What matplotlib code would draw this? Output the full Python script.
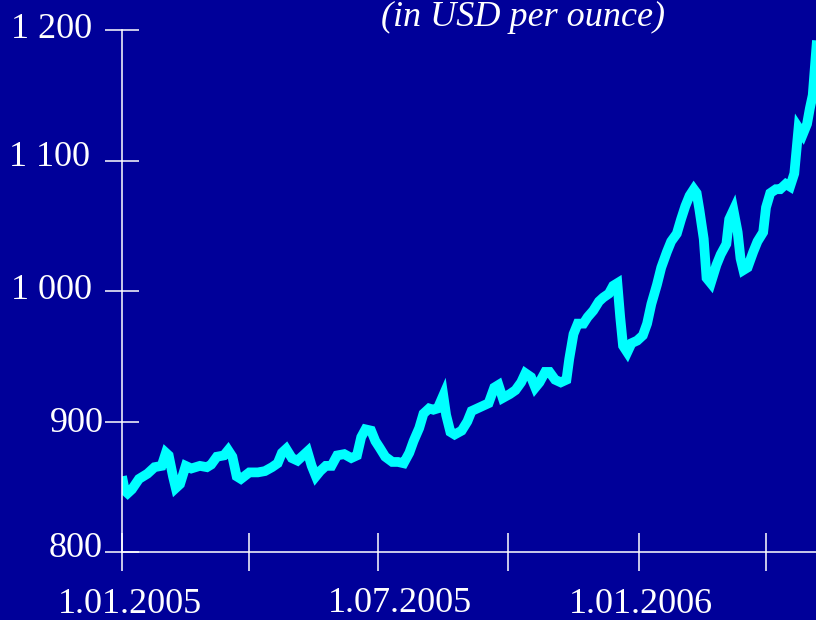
import matplotlib
matplotlib.use("Agg")
import matplotlib.pyplot as plt
import matplotlib.dates as mdates
import pandas as pd

# ---------------- data ----------------
dates = [
    "2005-01-01", "2005-01-03", "2005-01-05", "2005-01-08", "2005-01-13", "2005-01-19",
    "2005-01-24", "2005-01-29", "2005-02-01", "2005-02-03", "2005-02-06", "2005-02-08",
    "2005-02-11", "2005-02-15", "2005-02-19", "2005-02-25", "2005-03-02", "2005-03-05",
    "2005-03-09", "2005-03-14", "2005-03-17", "2005-03-20", "2005-03-23", "2005-03-26",
    "2005-04-01", "2005-04-07", "2005-04-12", "2005-04-17", "2005-04-21", "2005-04-24",
    "2005-04-27", "2005-05-01", "2005-05-05", "2005-05-09", "2005-05-12", "2005-05-15",
    "2005-05-18", "2005-05-21", "2005-05-25", "2005-05-29", "2005-06-02", "2005-06-07",
    "2005-06-12", "2005-06-16", "2005-06-19", "2005-06-22", "2005-06-26", "2005-06-29",
    "2005-07-02", "2005-07-06", "2005-07-11", "2005-07-15", "2005-07-19", "2005-07-23",
    "2005-07-26", "2005-07-30", "2005-08-02", "2005-08-06", "2005-08-09", "2005-08-12",
    "2005-08-16", "2005-08-18", "2005-08-21", "2005-08-24", "2005-08-29", "2005-09-02",
    "2005-09-05", "2005-09-09", "2005-09-13", "2005-09-17", "2005-09-21", "2005-09-24",
    "2005-09-27", "2005-10-02", "2005-10-06", "2005-10-10", "2005-10-13", "2005-10-17",
    "2005-10-20", "2005-10-23", "2005-10-27", "2005-10-30", "2005-11-03", "2005-11-07",
    "2005-11-11", "2005-11-13", "2005-11-16", "2005-11-19", "2005-11-23", "2005-11-26",
    "2005-11-30", "2005-12-04", "2005-12-07", "2005-12-11", "2005-12-14", "2005-12-17",
    "2005-12-19", "2005-12-21", "2005-12-24", "2005-12-27", "2005-12-31", "2006-01-04",
    "2006-01-07", "2006-01-10", "2006-01-14", "2006-01-17", "2006-01-21", "2006-01-24",
    "2006-01-28", "2006-01-31", "2006-02-03", "2006-02-06", "2006-02-09", "2006-02-11",
    "2006-02-13", "2006-02-16", "2006-02-18", "2006-02-21", "2006-02-25", "2006-02-28",
    "2006-03-04", "2006-03-06", "2006-03-09", "2006-03-12", "2006-03-14", "2006-03-16",
    "2006-03-19", "2006-03-23", "2006-03-26", "2006-03-30", "2006-04-01", "2006-04-04",
    "2006-04-08", "2006-04-11", "2006-04-15", "2006-04-18", "2006-04-21", "2006-04-24",
    "2006-04-27", "2006-04-30", "2006-05-02", "2006-05-04", "2006-05-07",
]
price = [
    858, 847, 845, 848, 856, 860,
    865, 866, 876, 874, 858, 849,
    852, 866, 864, 866, 865, 867,
    873, 874, 878, 873, 858, 856,
    861, 861, 862, 865, 868, 876,
    879, 872, 870, 874, 877, 866,
    858, 862, 866, 866, 874, 875,
    872, 874, 888, 894, 893, 885,
    880, 873, 869, 869, 868, 876,
    885, 895, 906, 910, 909, 910,
    920, 905, 892, 890, 893, 900,
    908, 910, 912, 914, 926, 928,
    918, 921, 924, 930, 937, 934,
    926, 930, 938, 938, 932, 930,
    932, 948, 967, 975, 975, 980,
    985, 992, 995, 998, 1004, 1006,
    980, 958, 953, 960, 962, 966,
    975, 990, 1005, 1018, 1030, 1038,
    1044, 1055, 1065, 1073, 1078, 1075,
    1062, 1040, 1010, 1006, 1020, 1028,
    1036, 1055, 1062, 1045, 1025, 1016,
    1018, 1030, 1038, 1045, 1064, 1075,
    1078, 1078, 1082, 1080, 1090, 1125,
    1120, 1128, 1140, 1150, 1192,
]
y_ticks = [800, 900, 1000, 1100, 1200]
y_labels = ["800", "900", "1 000", "1 100", "1 200"]
x_ticks = ["2005-01-01", "2005-04-01", "2005-07-01", "2005-10-01", "2006-01-01", "2006-04-01"]
x_label_dates = ["2005-01-01", "2005-07-01", "2006-01-01"]
x_labels = ["1.01.2005", "1.07.2005", "1.01.2006"]
title = "(in USD per ounce)"

# ---------------- style ----------------
BG = "#000099"
LINE = "#00FFFF"
FG = "white"
plt.rcParams["font.family"] = ["Liberation Serif", "DejaVu Serif"]

W, H = 816, 620
fig = plt.figure(figsize=(W / 100, H / 100), dpi=100, facecolor=BG)
ax = fig.add_axes([122 / W, 1 - 552 / H, 1 - 122 / W, 522 / H])
ax.set_facecolor(BG)

d = pd.to_datetime(dates)
ax.plot(d, price, color=LINE, lw=7, solid_joinstyle="miter", solid_capstyle="butt")

ax.set_ylim(800, 1200)
ax.set_xlim(pd.Timestamp("2005-01-01"), pd.Timestamp("2006-05-06 08:00"))

for s in ["top", "right"]:
    ax.spines[s].set_visible(False)
for s in ["left", "bottom"]:
    ax.spines[s].set_color(FG)
    ax.spines[s].set_linewidth(1.1)

ax.set_yticks(y_ticks)
ax.set_yticklabels([])
ax.set_xticks(pd.to_datetime(x_ticks))
ax.set_xticklabels([])
ax.tick_params(axis="y", direction="inout", length=24.5, width=1.1, color=FG)
ax.tick_params(axis="x", direction="inout", length=27.5, width=1.1, color=FG)
for t in ax.yaxis.get_major_ticks() + ax.xaxis.get_major_ticks():
    t.tick1line.set_clip_on(False)

# y labels (manual placement like the original slide)
y_off = {800: (-19, -5), 900: (-18, -10), 1000: (-30, -8), 1100: (-32, -6), 1200: (-30, -8)}
for v, lab in zip(y_ticks, y_labels):
    dx, dy = y_off[v]
    ax.annotate(lab, xy=(0, v), xycoords=("axes fraction", "data"),
                xytext=(dx, dy), textcoords="offset pixels",
                ha="right", va="baseline", color=FG, fontsize=26,
                annotation_clip=False)

x_off = [(8, -61), (22, -60), (2, -61)]
for dt, lab, (dx, dy) in zip(x_label_dates, x_labels, x_off):
    ax.annotate(lab, xy=(mdates.date2num(pd.Timestamp(dt)), 0),
                xycoords=("data", "axes fraction"),
                xytext=(dx, dy), textcoords="offset pixels",
                ha="center", va="baseline", color=FG, fontsize=26,
                annotation_clip=False)

fig.text(523 / W, 1 - 26 / H, title, ha="center", va="baseline",
         color=FG, fontsize=26, style="italic")

fig.savefig("out.png", dpi=100, facecolor=BG)
